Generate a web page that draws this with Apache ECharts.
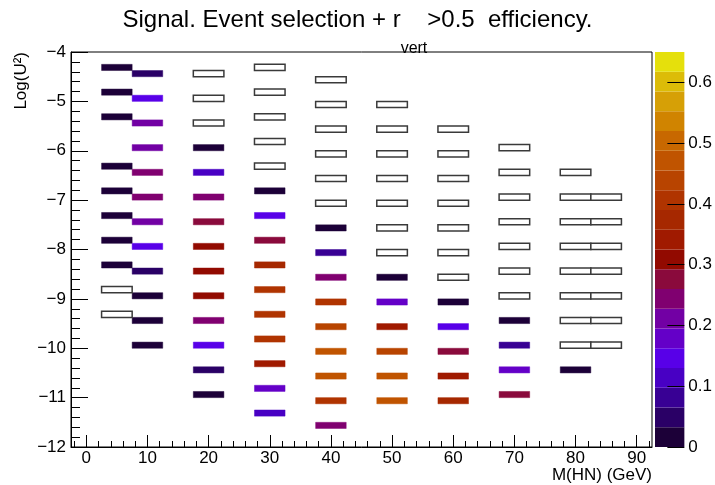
<!DOCTYPE html>
<html>
<head>
<meta charset="utf-8">
<script src="https://cdn.jsdelivr.net/npm/echarts@6/dist/echarts.min.js"></script>
<style>
html,body{margin:0;padding:0;background:#fff;}
#chart{width:715px;height:485px;}
</style>
</head>
<body>
<div id="chart"></div>
<script>
// ---------------- data ----------------
// Each column: M(HN) mass point [GeV] -> list of [log10(U^2) bin centre, efficiency]
// efficiency null = cell drawn as empty (outlined) box
const massPoints = [5, 10, 20, 30, 40, 50, 60, 70, 80, 85];

const cells_M5 = [[-4.3125,0.02],[-4.8125,0.02],[-5.3125,0.02],[-6.3125,0.02],[-6.8125,0.02],
  [-7.3125,0.02],[-7.8125,0.02],[-8.3125,0.02],[-8.8125,null],[-9.3125,null]];
const cells_M10 = [[-4.4375,0.05],[-4.9375,0.15],[-5.4375,0.21],[-5.9375,0.21],[-6.4375,0.24],
  [-6.9375,0.24],[-7.4375,0.21],[-7.9375,0.15],[-8.4375,0.05],[-8.9375,0.02],[-9.4375,0.02],[-9.9375,0.02]];
const cells_M20 = [[-4.4375,null],[-4.9375,null],[-5.4375,null],[-5.9375,0.02],[-6.4375,0.12],
  [-6.9375,0.24],[-7.4375,0.28],[-7.9375,0.31],[-8.4375,0.31],[-8.9375,0.31],[-9.4375,0.24],
  [-9.9375,0.15],[-10.4375,0.05],[-10.9375,0.02]];
const cells_M30 = [[-4.3125,null],[-4.8125,null],[-5.3125,null],[-5.8125,null],[-6.3125,null],
  [-6.8125,0.02],[-7.3125,0.15],[-7.8125,0.28],[-8.3125,0.37],[-8.8125,0.41],[-9.3125,0.41],
  [-9.8125,0.41],[-10.3125,0.34],[-10.8125,0.18],[-11.3125,0.11]];
const cells_M40 = [[-4.5625,null],[-5.0625,null],[-5.5625,null],[-6.0625,null],[-6.5625,null],
  [-7.0625,null],[-7.5625,0.02],[-8.0625,0.08],[-8.5625,0.24],[-9.0625,0.41],[-9.5625,0.44],
  [-10.0625,0.47],[-10.5625,0.47],[-11.0625,0.41],[-11.5625,0.24]];
const cells_M50 = [[-5.0625,null],[-5.5625,null],[-6.0625,null],[-6.5625,null],[-7.0625,null],
  [-7.5625,null],[-8.0625,null],[-8.5625,0.02],[-9.0625,0.18],[-9.5625,0.34],[-10.0625,0.44],
  [-10.5625,0.47],[-11.0625,0.47]];
const cells_M60 = [[-5.5625,null],[-6.0625,null],[-6.5625,null],[-7.0625,null],[-7.5625,null],
  [-8.0625,null],[-8.5625,null],[-9.0625,0.02],[-9.5625,0.15],[-10.0625,0.28],[-10.5625,0.34],
  [-11.0625,0.38]];
const cells_M70 = [[-5.9375,null],[-6.4375,null],[-6.9375,null],[-7.4375,null],[-7.9375,null],
  [-8.4375,null],[-8.9375,null],[-9.4375,0.02],[-9.9375,0.08],[-10.4375,0.18],[-10.9375,0.28]];
const cells_M80 = [[-6.4375,null],[-6.9375,null],[-7.4375,null],[-7.9375,null],[-8.4375,null],
  [-8.9375,null],[-9.4375,null],[-9.9375,null],[-10.4375,0.02]];
const cells_M85 = [[-6.9375,null],[-7.4375,null],[-7.9375,null],[-8.4375,null],[-8.9375,null],
  [-9.4375,null],[-9.9375,null]];

// axes / ticks
const xTickValues = [0, 10, 20, 30, 40, 50, 60, 70, 80, 90];
const xMinorTickValues = [-2, 0, 2, 4, 6, 8, 10, 12, 14, 16, 18, 20, 22, 24, 26, 28, 30, 32, 34, 36, 38, 40,
  42, 44, 46, 48, 50, 52, 54, 56, 58, 60, 62, 64, 66, 68, 70, 72, 74, 76, 78, 80, 82, 84, 86, 88, 90, 92];
const zTickValues = [0, 0.1, 0.2, 0.3, 0.4, 0.5, 0.6];

// colour palette (bottom -> top), 20 contour bands from zMin to zMax
const paletteColors = ['#1c0038', '#2a0066', '#380094', '#4800c4', '#5800e8', '#6400c8', '#7200a4',
  '#800070', '#8a0a3c', '#920a00', '#a01a00', '#a62800', '#b03400', '#b84400', '#c05400',
  '#c86800', '#d08400', '#d6a006', '#dcbc08', '#e5e00c'];
const zMin = 0, zMax = 0.65;

// ---------------- build ----------------
const FONT = '"Liberation Sans", Arial, Helvetica, sans-serif';
const binW = 5, binH = 0.125;
const bandStep = (zMax - zMin) / paletteColors.length;
const cellsByMass = {5: cells_M5, 10: cells_M10, 20: cells_M20, 30: cells_M30, 40: cells_M40,
  50: cells_M50, 60: cells_M60, 70: cells_M70, 80: cells_M80, 85: cells_M85};
const filled = [], empty = [];
massPoints.forEach(m => cellsByMass[m].forEach(([y, e]) => {
  if (e === null) empty.push([m, y]); else filled.push([m, y, e]);
}));
function colorFor(v) {
  let i = Math.floor((v - zMin) / bandStep + 1e-9);
  i = Math.max(0, Math.min(paletteColors.length - 1, i));
  return paletteColors[i];
}
function cellShape(api, x, y) {
  const p0 = api.coord([x - binW / 2, y + binH / 2]);
  const p1 = api.coord([x + binW / 2, y - binH / 2]);
  return {x: p0[0], y: p0[1], width: p1[0] - p0[0], height: p1[1] - p0[1]};
}

const chart = echarts.init(document.getElementById('chart'), null, {renderer: 'canvas'});
const txt = {color: '#000', fontFamily: FONT, fontSize: 17};
chart.setOption({
  animation: false,
  backgroundColor: '#fff',
  title: {
    text: '{m|Signal. Event selection + r}{s|vert}{m|>0.5  efficiency.}',
    left: 'center', top: 8, padding: 0,
    textStyle: {
      fontWeight: 'normal',
      rich: {
        m: {fontFamily: FONT, fontSize: 24, fontWeight: 'normal', lineHeight: 24, color: '#000', verticalAlign: 'top'},
        s: {fontFamily: FONT, fontSize: 16, fontWeight: 'normal', lineHeight: 16, color: '#000', verticalAlign: 'top', padding: [33, 0, 0, 0]}
      }
    }
  },
  grid: [
    {left: 71, top: 52, width: 581, height: 395, show: true, borderColor: '#000', borderWidth: 1, backgroundColor: 'transparent'},
    {left: 71, top: 52, width: 581, height: 395, show: false},
    {left: 655, top: 52, width: 33, height: 395, show: false}
  ],
  xAxis: [
    {gridIndex: 0, type: 'value', min: -2.5, max: 92.5,
      axisLine: {show: true, onZero: false, lineStyle: {color: '#000', width: 1}},
      axisTick: {show: true, inside: true, length: 12, customValues: xTickValues, lineStyle: {color: '#000'}},
      axisLabel: {show: true, margin: 3, customValues: xTickValues, ...txt},
      splitLine: {show: false}},
    {gridIndex: 1, type: 'value', min: -2.5, max: 92.5, position: 'bottom',
      axisLine: {show: false, onZero: false},
      axisTick: {show: true, inside: true, length: 6, customValues: xMinorTickValues, lineStyle: {color: '#000'}},
      axisLabel: {show: false}, splitLine: {show: false}},
    {gridIndex: 2, type: 'value', min: 0, max: 1, show: false, axisLine: {onZero: false}}
  ],
  yAxis: [
    {gridIndex: 0, type: 'value', min: -12, max: -4, interval: 1,
      axisLine: {show: true, onZero: false, lineStyle: {color: '#000', width: 1}},
      axisTick: {show: true, inside: true, length: 17, lineStyle: {color: '#000'}},
      minorTick: {show: true, splitNumber: 5, length: 9, lineStyle: {color: '#000'}},
      axisLabel: {show: true, margin: 5, ...txt, formatter: v => String(v).replace('-', '\u2212')},
      splitLine: {show: false}, minorSplitLine: {show: false}},
    {gridIndex: 1, type: 'value', min: 0, max: 1, show: false, axisLine: {onZero: false}},
    {gridIndex: 2, type: 'value', min: zMin, max: zMax, position: 'right', z: 10,
      axisLine: {show: false, onZero: false},
      axisTick: {show: true, inside: true, length: 17, customValues: zTickValues, lineStyle: {color: '#000'}},
      axisLabel: {show: true, margin: 4, customValues: zTickValues, ...txt, formatter: v => String(v)},
      splitLine: {show: false}}
  ],
  graphic: [
    {type: 'text', x: 21.5, y: 52, rotation: Math.PI / 2,
      style: {text: 'Log(U\u00b2)', font: '17px ' + FONT, fill: '#000', textAlign: 'right', textVerticalAlign: 'middle'}},
    {type: 'text', x: 652, y: 475,
      style: {text: 'M(HN) (GeV)', font: '17px ' + FONT, fill: '#000', textAlign: 'right', textVerticalAlign: 'middle'}}
  ],
  series: [
    {type: 'custom', name: 'efficiency', xAxisIndex: 0, yAxisIndex: 0, data: filled,
      encode: {x: 0, y: 1},
      renderItem: (params, api) => {
        const c = colorFor(api.value(2));
        return {
          type: 'rect',
          shape: cellShape(api, api.value(0), api.value(1)),
          style: {fill: c, stroke: c, lineWidth: 1, strokeOpacity: 0.45}
        };
      }},
    {type: 'custom', name: 'empty', xAxisIndex: 0, yAxisIndex: 0, data: empty,
      encode: {x: 0, y: 1},
      renderItem: (params, api) => ({
        type: 'rect',
        shape: cellShape(api, api.value(0), api.value(1)),
        style: {fill: '#fff', stroke: '#3a3a3a', lineWidth: 1.5}
      })},
    {type: 'custom', name: 'palette', xAxisIndex: 2, yAxisIndex: 2, z: 1,
      data: paletteColors.map((c, i) => [0, zMin + i * bandStep]),
      encode: {x: 0, y: 1},
      renderItem: (params, api) => {
        const lo = api.value(1);
        const p0 = api.coord([0, lo + bandStep]);
        const p1 = api.coord([1, lo]);
        return {type: 'rect', shape: {x: p0[0], y: p0[1], width: p1[0] - p0[0], height: p1[1] - p0[1]},
          style: {fill: paletteColors[params.dataIndex]}};
      }}
  ]
});
</script>
</body>
</html>
